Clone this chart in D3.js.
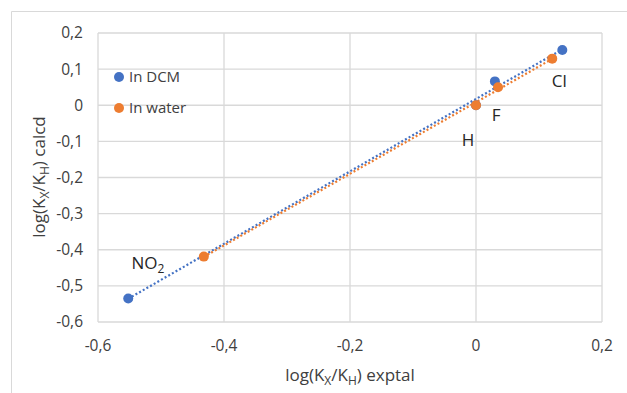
<!DOCTYPE html>
<html>
<head>
<meta charset="utf-8">
<script src="https://cdn.jsdelivr.net/npm/d3@7"></script>
<style>
  body { margin: 0; background: #fff; }
  svg { display: block; font-family: "Open Sans", "Noto Sans", sans-serif; }
</style>
</head>
<body>
<div id="chart"></div>
<script>
const substituents = ["H", "F", "Cl", "NO2"]
const exptDCM = [0, 0.030, 0.137, -0.552]
const calcDCM = [0, 0.066, 0.153, -0.535]
const exptWater = [0, 0.035, 0.121, -0.432]
const calcWater = [0, 0.050, 0.129, -0.419]
const xTicks = [-0.6, -0.4, -0.2, 0, 0.2]
const yTicks = [0.2, 0.1, 0, -0.1, -0.2, -0.3, -0.4, -0.5, -0.6]

const width = 627, height = 393
const margin = { top: 33, right: 25, bottom: 71, left: 98 }
const blue = "#4472C4", orange = "#ED7D31"
const fmt = v => String(Math.round(v * 10) / 10).replace(".", ",")

const svg = d3.select("#chart").append("svg")
  .attr("width", width).attr("height", height)

// chart frame
svg.append("path")
  .attr("d", `M11.5,${height} V11.5 H${width}`)
  .attr("fill", "none").attr("stroke", "#d9d9d9")

const x = d3.scaleLinear().domain([-0.6, 0.2]).range([margin.left, width - margin.right])
const y = d3.scaleLinear().domain([-0.6, 0.2]).range([height - margin.bottom, margin.top])

// grid
svg.append("g").selectAll("line").data(xTicks).join("line")
  .attr("x1", d => x(d)).attr("x2", d => x(d))
  .attr("y1", y(0.2)).attr("y2", y(-0.6))
  .attr("stroke", "#d9d9d9").attr("stroke-width", 1.3)
svg.append("g").selectAll("line").data(yTicks).join("line")
  .attr("x1", x(-0.6)).attr("x2", x(0.2))
  .attr("y1", d => y(d)).attr("y2", d => y(d))
  .attr("stroke", "#d9d9d9").attr("stroke-width", 1.3)

// tick labels
svg.append("g").selectAll("text").data(yTicks).join("text")
  .attr("x", x(-0.6) - 15).attr("y", d => y(d)).attr("dy", "0.35em")
  .attr("text-anchor", "end").attr("font-size", 15.5).attr("fill", "#404040")
  .text(fmt)
svg.append("g").selectAll("text").data(xTicks).join("text")
  .attr("x", d => x(d)).attr("y", y(-0.6) + 24).attr("dy", "0.35em")
  .attr("text-anchor", "middle").attr("font-size", 15.5).attr("fill", "#404040")
  .text(fmt)

// axis titles
function subTitle(sel, tail) {
  sel.append("tspan").text("log(K")
  sel.append("tspan").attr("font-size", 12).attr("dy", 4).text("X")
  sel.append("tspan").attr("dy", -4).text("/K")
  sel.append("tspan").attr("font-size", 12).attr("dy", 4).text("H")
  sel.append("tspan").attr("dy", -4).text(tail)
}
subTitle(svg.append("text")
  .attr("x", 350).attr("y", 381).attr("text-anchor", "middle")
  .attr("font-size", 17).attr("fill", "#404040"), ") exptal")
subTitle(svg.append("text")
  .attr("transform", `translate(45,177) rotate(-90)`).attr("text-anchor", "middle")
  .attr("font-size", 17).attr("fill", "#404040"), ") calcd")

// linear trendlines
function trend(xs, ys, color) {
  const mx = d3.mean(xs), my = d3.mean(ys)
  const slope = d3.sum(xs, (v, i) => (v - mx) * (ys[i] - my)) / d3.sum(xs, v => (v - mx) ** 2)
  const b = my - slope * mx
  const [x0, x1] = d3.extent(xs)
  svg.append("line")
    .attr("x1", x(x0)).attr("y1", y(slope * x0 + b))
    .attr("x2", x(x1)).attr("y2", y(slope * x1 + b))
    .attr("stroke", color).attr("stroke-width", 2.2)
    .attr("stroke-dasharray", "2,2.2")
}
trend(exptDCM, calcDCM, blue)
trend(exptWater, calcWater, orange)

// markers
function points(xs, ys, color) {
  svg.append("g").selectAll("circle").data(xs).join("circle")
    .attr("cx", d => x(d)).attr("cy", (d, i) => y(ys[i]))
    .attr("r", 5).attr("fill", color)
}
points(exptDCM, calcDCM, blue)
points(exptWater, calcWater, orange)

// point labels, offset from the water point
const labelPos = { H: [-8, 35], F: [-2, 28], Cl: [7, 22], NO2: [-56, 6] }
substituents.forEach((s, i) => {
  const [dx, dy] = labelPos[s]
  const t = svg.append("text")
    .attr("x", x(exptWater[i]) + dx).attr("y", y(calcWater[i]) + dy).attr("dy", "0.35em")
    .attr("text-anchor", "middle").attr("font-size", 17).attr("fill", "#262626")
  if (s === "NO2") {
    t.append("tspan").text("NO")
    t.append("tspan").attr("font-size", 12).attr("dy", 4).text("2")
  } else {
    t.text(s)
  }
})

// legend
const legend = [["In DCM", blue], ["In water", orange]]
legend.forEach(([name, color], i) => {
  const ly = 77 + i * 31
  svg.append("circle").attr("cx", 119).attr("cy", ly).attr("r", 5).attr("fill", color)
  svg.append("text").attr("x", 129).attr("y", ly).attr("dy", "0.35em")
    .attr("font-size", 15).attr("fill", "#404040").text(name)
})
</script>
</body>
</html>
